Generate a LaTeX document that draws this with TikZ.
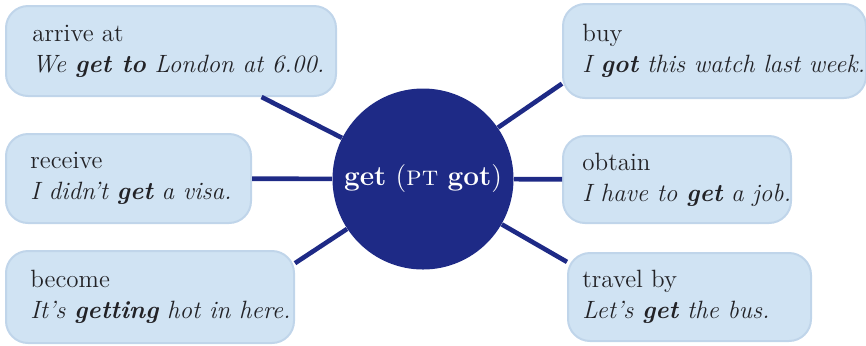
\documentclass[tikz,border=0pt]{standalone}
\usepackage{tikz}
\usetikzlibrary{positioning, calc}
\definecolor{hubblue}{RGB}{30,42,134}
\definecolor{boxblue}{RGB}{208,227,243}
\definecolor{boxedge}{RGB}{192,213,234}
\definecolor{inkgrey}{RGB}{34,34,38}

\begin{document}
\begin{tikzpicture}[x=0.5pt, y=-0.5pt,
    sense/.style={fill=boxblue, draw=boxedge, line width=1pt, rounded corners=11pt, anchor=north west, inner sep=0pt},
    gloss/.style={align=left, inner sep=0pt, text=inkgrey, font=\fontsize{12.5}{15.5}\selectfont},
    link/.style={draw=hubblue, line width=2.3pt},
    hub/.style={circle, fill=hubblue, text=white, minimum size=90.5pt, inner sep=0pt, font=\fontsize{14}{17}\selectfont}]
    \useasboundingbox (0,0) rectangle (866,345);
    \node[hub] (get) at (423,179) {\textbf{get} (\textsc{pt} \textbf{got})};
    \node[sense, minimum width=165pt, minimum height=45pt] (arrive) at (5,5) {};
    \node[sense, minimum width=122.5pt, minimum height=44.5pt] (receive) at (5,133) {};
    \node[sense, minimum width=144pt, minimum height=46pt] (become) at (5,250) {};
    \node[sense, minimum width=151.5pt, minimum height=47pt] (buy) at (562,3) {};
    \node[sense, minimum width=114pt, minimum height=43.5pt] (obtain) at (562,135) {};
    \node[sense, minimum width=121.5pt, minimum height=44pt] (travel) at (567,252) {};
    \node[gloss, right=13.5pt of arrive.west] (arrivetxt) {arrive at\\\textit{We \textbf{get to} London at 6.00.}};
    \node[gloss, right=12.5pt of receive.west] (receivetxt) {receive\\\textit{I didn't \textbf{get} a visa.}};
    \node[gloss, right=12.5pt of become.west] (becometxt) {become\\\textit{It's \textbf{getting} hot in here.}};
    \node[gloss, right=10pt of buy.west] (buytxt) {buy\\\textit{I \textbf{got} this watch last week.}};
    \node[gloss, right=10pt of obtain.west] (obtaintxt) {obtain\\\textit{I have to \textbf{get} a job.}};
    \node[gloss, right=7.5pt of travel.west] (traveltxt) {travel by\\\textit{Let's \textbf{get} the bus.}};
    \draw[link] (get) -- (arrive);
    \draw[link] (get) -- (receive);
    \draw[link] (get) -- ($(become.north east)!0.14!(become.south east)$);
    \draw[link] (get) -- ($(buy.north west)!0.84!(buy.south west)$);
    \draw[link] (get) -- (obtain);
    \draw[link] (get) -- ($(travel.north west)!0.11!(travel.south west)$);
\end{tikzpicture}
\end{document}
